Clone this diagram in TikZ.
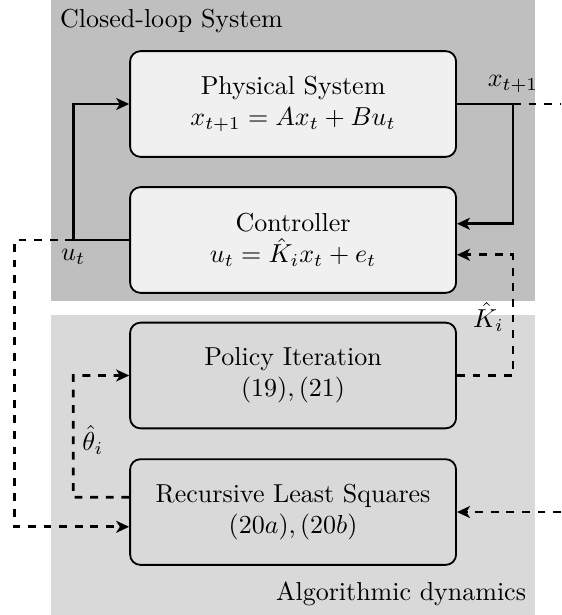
\documentclass[tikz,border=0pt]{standalone}
\usetikzlibrary{arrows.meta}
\begin{document}
\begin{tikzpicture}[
    blk/.style={draw, line width=0.7pt, rounded corners=4pt, minimum width=4.41cm, minimum height=1.43cm, align=center},
    sol/.style={line width=1.1pt},
    dsh/.style={line width=1.1pt, dashed},
    >={Stealth[length=5pt,width=4.6pt,inset=1.4pt]}]
    \useasboundingbox (0,0) rectangle (7.59,-8.32);
    \fill[gray!50] (0.69,0) rectangle (7.24,-4.07);
    \fill[gray!30] (0.69,-4.26) rectangle (7.24,-8.32);
    \node[anchor=north west] (cls) at (0.69,0) {Closed-loop System};
    \node[anchor=south east] (alg) at (7.24,-8.32) {Algorithmic dynamics};
    % blocks
    \node[blk, fill=gray!12] (sys) at (3.965,-1.407) {Physical System\\ $x_{t+1}=Ax_t+Bu_t$};
    \node[blk, fill=gray!12] (ctrl) at (3.965,-3.247) {Controller\\ $u_t=\hat{K}_ix_t+e_t$};
    \node[blk] (pol) at (3.965,-5.08) {Policy Iteration\\ $(19),(21)$};
    \node[blk] (rls) at (3.965,-6.927) {Recursive Least Squares\\ $(20a),(20b)$};
    % corners
    \coordinate (xr) at (6.94,-1.407);  \coordinate (xe) at (7.59,-1.407);
    \coordinate (ul) at (0.99,-3.247);  \coordinate (ue) at (0.20,-3.247);
    \coordinate (kr) at (6.94,-5.08);   \coordinate (tl) at (0.99,-6.727);
    \coordinate (re) at (7.59,-6.927);
    % closed loop
    \draw[sol,->] (sys.east) -- (xr) |- ([yshift=0.22cm]ctrl.east);
    \draw[sol,->] (ctrl.west) -- (ul) |- (sys.west);
    \node[above,yshift=1pt] (xl) at (xr) {$x_{t+1}$};
    \node[below] (ulab) at (ul) {$u_t$};
    % learning
    \draw[dsh] (xr) -- (xe);
    \draw[dsh,->] (ul) -- (ue) |- ([yshift=-0.2cm]rls.west);
    \draw[dsh,->] (pol.east) -- (kr) |- ([yshift=-0.2cm]ctrl.east);
    \draw[dsh,->] ([yshift=0.2cm]rls.west) -- (tl) |- (pol.west);
    \draw[dsh,->] (re) -- (rls.east);
    \node[left] (kl) at (6.94,-4.29) {$\hat{K}_i$};
    \node[right] (tlab) at (0.99,-5.95) {$\hat{\theta}_i$};
\end{tikzpicture}
\end{document}
